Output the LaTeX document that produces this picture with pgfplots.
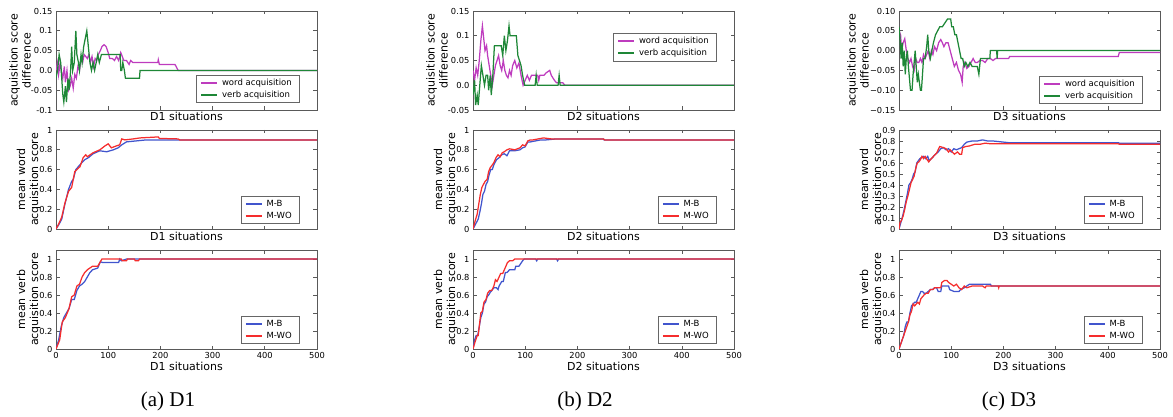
\documentclass[border=0pt]{standalone}
\usepackage{fontspec}
\setmainfont{DejaVu Sans}
\newfontfamily\capfont{Liberation Serif}
\usepackage{pgfplots}
\pgfplotsset{compat=1.18}

\definecolor{wordc}{RGB}{190,60,190}
\definecolor{verbc}{RGB}{30,135,55}
\definecolor{mbc}{RGB}{65,85,205}
\definecolor{mwoc}{RGB}{245,45,45}

\pgfplotsset{
  panel/.style={
    scale only axis, width=261pt, height=99pt,
    xmin=0, xmax=500, xtick={0,100,...,500},
    axis line style={black!65, line width=0.8pt},
    tick style={black!65, line width=0.6pt},
    major tick length=3.5pt, tick align=inside,
    /pgf/number format/assume math mode=true,
    tick label style={font=\fontsize{8.3}{9}\selectfont},
    label style={font=\fontsize{11}{13}\selectfont},
    ylabel style={align=center, at={(axis description cs:-0.105,0.5)}, anchor=center},
    xlabel style={at={(axis description cs:0.5,0)}, anchor=base, yshift=-11pt},
    legend style={font=\fontsize{8.5}{10}\selectfont, draw=black!60, line width=0.6pt,
      inner xsep=4pt, inner ysep=2pt, row sep=0pt, cells={anchor=west},
      nodes={inner xsep=4pt}},
    legend image code/.code={\draw[#1, line width=1.5pt] (0pt,0pt) -- (16pt,0pt);},
    every axis plot/.append style={line width=1.25pt, no markers},
  },
  toprow/.style={panel, xticklabels={},
    ylabel={acquisition score\\difference},
    ylabel style={at={(axis description cs:-0.138,0.5)}}},
  midrow/.style={panel, xticklabels={}, ylabel={mean word\\acquisition score}},
  botrow/.style={panel, ymin=0, ymax=1.1, ytick={0,0.2,0.4,0.6,0.8,1},
    yticklabels={0,0.2,0.4,0.6,0.8,1},
    ylabel={mean verb\\acquisition score}, xlabel style={yshift=-10pt},
    legend style={at={(0.935,0.05)}, anchor=south east}},
}

\begin{document}
\begin{tikzpicture}
\useasboundingbox (0,0) rectangle (1173pt,416pt);

% ---------------- D1 ----------------
\begin{axis}[toprow, at={(56pt,306pt)}, ymin=-0.1, ymax=0.15,
  ytick={-0.1,-0.05,0,0.05,0.1,0.15}, yticklabels={-0.1,-0.05,0.0,0.05,0.1,0.15},
  xlabel={D1 situations}, legend style={at={(0.935,0.07)}, anchor=south east}]
\addplot[wordc] coordinates {(0,0.0)(3,0.02)(5,-0.01)(8,0.02)(10,0.0)(13,-0.02)(16,0.01)(18,-0.03)(21,0.0)(24,-0.05)(27,-0.04)(30,-0.02)(33,-0.045)(36,-0.01)(39,-0.02)(42,0.01)(45,0.0)(48,0.03)(51,0.02)(54,0.04)(57,0.035)(60,0.03)(63,0.04)(66,0.02)(69,0.035)(72,0.01)(75,0.03)(78,0.025)(81,0.04)(85,0.05)(88,0.06)(92,0.065)(96,0.06)(100,0.045)(103,0.03)(108,0.03)(112,0.025)(116,0.035)(120,0.025)(124,0.045)(127,0.035)(130,0.025)(135,0.025)(140,0.015)(143,0.025)(147,0.02)(195,0.02)(196,0.027)(198,0.015)(228,0.015)(230,0.01)(234,0.0)(500,0.0)};
\addlegendentry{word acquisition}
\addplot[verbc] coordinates {(0,-0.02)(3,0.0)(6,0.04)(9,0.02)(11,-0.02)(13,-0.06)(15,-0.08)(18,-0.04)(20,-0.08)(23,-0.02)(25,-0.05)(28,0.0)(30,0.06)(32,0.0)(35,0.02)(38,0.1)(40,0.04)(43,0.02)(45,0.0)(48,0.04)(50,0.02)(53,0.06)(56,0.08)(59,0.1)(62,0.06)(65,0.02)(68,0.0)(71,0.02)(74,0.0)(77,0.02)(80,0.04)(83,0.02)(87,0.04)(123,0.04)(124,0.0)(126,0.0)(128,0.02)(131,0.0)(133,-0.02)(160,-0.02)(161,0.0)(500,0.0)};
\addlegendentry{verb acquisition}
\end{axis}

\begin{axis}[midrow, at={(56pt,187pt)}, ymin=0, ymax=1,
  ytick={0,0.2,0.4,0.6,0.8,1}, yticklabels={0,0.2,0.4,0.6,0.8,1},
  xlabel={D1 situations}, legend style={at={(0.935,0.05)}, anchor=south east}]
\addplot[mbc] coordinates {(0,0)(5,0.04)(11,0.1)(17,0.25)(24,0.4)(30,0.48)(33,0.5)(38,0.6)(46,0.65)(55,0.7)(62,0.72)(71,0.76)(84,0.79)(97,0.78)(110,0.8)(119,0.82)(126,0.85)(135,0.88)(154,0.89)(173,0.9)(500,0.9)};
\addlegendentry{M-B}
\addplot[mwoc] coordinates {(0,0)(5,0.05)(11,0.12)(17,0.26)(24,0.38)(30,0.42)(36,0.58)(46,0.63)(52,0.72)(57,0.75)(60,0.73)(71,0.77)(84,0.8)(94,0.84)(100,0.86)(106,0.82)(116,0.84)(122,0.85)(126,0.91)(132,0.9)(148,0.91)(161,0.92)(196,0.93)(198,0.915)(234,0.91)(237,0.9)(500,0.9)};
\addlegendentry{M-WO}
\end{axis}

\begin{axis}[botrow, at={(56pt,67pt)}, xlabel={D1 situations}]
\addplot[mbc] coordinates {(0,0)(5,0.1)(10,0.25)(15,0.35)(20,0.4)(25,0.45)(30,0.55)(35,0.55)(40,0.65)(45,0.7)(50,0.72)(55,0.75)(60,0.8)(65,0.85)(70,0.88)(80,0.9)(85,0.97)(90,0.96)(120,0.96)(122,1.0)(125,0.98)(135,1.0)(500,1.0)};
\addlegendentry{M-B}
\addplot[mwoc] coordinates {(0,0)(7,0.1)(12,0.3)(18,0.35)(25,0.45)(30,0.58)(35,0.6)(40,0.7)(45,0.72)(50,0.8)(55,0.85)(60,0.88)(70,0.92)(80,0.92)(88,1.0)(125,1.0)(127,0.98)(135,0.98)(137,1.0)(150,1.0)(152,0.98)(158,0.98)(160,1.0)(500,1.0)};
\addlegendentry{M-WO}
\end{axis}

% ---------------- D2 ----------------
\begin{axis}[toprow, at={(473pt,306pt)}, ymin=-0.05, ymax=0.15,
  ytick={-0.05,0,0.05,0.1,0.15}, yticklabels={-0.05,0.0,0.05,0.1,0.15},
  xlabel={D2 situations}, legend style={at={(0.935,0.78)}, anchor=north east}]
\addplot[wordc] coordinates {(0,0.03)(3,0.01)(6,0.035)(9,0.02)(12,0.05)(15,0.09)(18,0.12)(21,0.09)(23,0.07)(26,0.08)(28,0.06)(31,0.04)(34,0.02)(37,0.0)(40,0.02)(43,0.04)(46,0.05)(49,0.06)(52,0.04)(55,0.03)(58,0.05)(61,0.03)(64,0.02)(67,0.015)(70,0.03)(73,0.02)(76,0.04)(80,0.05)(84,0.035)(88,0.045)(92,0.02)(96,0.0)(100,0.01)(104,0.02)(108,0.01)(112,0.02)(124,0.02)(126,0.01)(128,0.02)(136,0.02)(140,0.025)(147,0.03)(150,0.02)(156,0.01)(160,0.005)(172,0.005)(176,0.0)(500,0)};
\addlegendentry{word acquisition}
\addplot[verbc] coordinates {(0,-0.02)(3,0.01)(5,-0.04)(8,-0.02)(10,-0.04)(13,0.0)(16,0.04)(19,0.02)(22,0.0)(25,0.02)(28,0.02)(30,-0.01)(33,0.02)(35,-0.02)(38,0.02)(41,0.08)(54,0.08)(57,0.06)(60,0.1)(63,0.07)(66,0.09)(69,0.12)(71,0.1)(83,0.1)(86,0.06)(92,0.04)(95,0.02)(99,0.0)(119,0.0)(121,0.02)(123,0.0)(163,0.0)(165,0.02)(167,0.0)(500,0)};
\addlegendentry{verb acquisition}
\end{axis}

\begin{axis}[midrow, at={(473pt,187pt)}, ymin=0, ymax=1,
  ytick={0,0.2,0.4,0.6,0.8,1}, yticklabels={0,0.2,0.4,0.6,0.8,1},
  xlabel={D2 situations}, legend style={at={(0.935,0.05)}, anchor=south east}]
\addplot[mbc] coordinates {(0,0)(5,0.05)(10,0.1)(13,0.17)(16,0.25)(19,0.35)(22,0.38)(25,0.45)(28,0.48)(31,0.55)(34,0.6)(37,0.6)(40,0.65)(45,0.7)(50,0.72)(55,0.75)(60,0.76)(65,0.74)(70,0.79)(80,0.79)(90,0.8)(95,0.82)(100,0.83)(105,0.88)(110,0.88)(120,0.89)(130,0.9)(140,0.9)(160,0.91)(250,0.91)(251,0.9)(500,0.9)};
\addlegendentry{M-B}
\addplot[mwoc] coordinates {(0,0)(4,0.08)(8,0.15)(11,0.25)(14,0.35)(17,0.42)(20,0.45)(23,0.48)(27,0.5)(30,0.58)(33,0.62)(36,0.64)(40,0.67)(44,0.72)(48,0.75)(52,0.73)(56,0.77)(60,0.78)(65,0.8)(70,0.81)(80,0.8)(90,0.82)(95,0.85)(100,0.84)(105,0.89)(110,0.9)(115,0.9)(125,0.91)(135,0.92)(150,0.91)(250,0.91)(252,0.9)(500,0.9)};
\addlegendentry{M-WO}
\end{axis}

\begin{axis}[botrow, at={(473pt,67pt)}, xlabel={D2 situations}]
\addplot[mbc] coordinates {(0,0)(3,0.1)(6,0.15)(9,0.15)(12,0.25)(15,0.35)(18,0.4)(21,0.5)(24,0.52)(27,0.58)(30,0.6)(33,0.63)(36,0.65)(40,0.68)(45,0.68)(48,0.66)(50,0.7)(55,0.75)(58,0.75)(62,0.85)(65,0.85)(70,0.88)(80,0.88)(82,0.92)(88,0.92)(95,0.98)(98,1.0)(120,1.0)(122,0.98)(124,1.0)(160,1.0)(162,0.98)(164,1.0)(500,1.0)};
\addlegendentry{M-B}
\addplot[mwoc] coordinates {(0,0)(4,0.08)(8,0.15)(10,0.15)(13,0.3)(15,0.4)(18,0.42)(21,0.52)(25,0.55)(28,0.62)(32,0.65)(36,0.65)(40,0.7)(43,0.77)(46,0.75)(50,0.8)(53,0.84)(57,0.84)(60,0.88)(63,0.92)(66,0.96)(70,0.98)(76,0.98)(80,1.0)(500,1.0)};
\addlegendentry{M-WO}
\end{axis}

% ---------------- D3 ----------------
\begin{axis}[toprow, at={(899pt,306pt)}, ymin=-0.15, ymax=0.1,
  ytick={-0.15,-0.1,-0.05,0,0.05,0.1}, yticklabels={−0.15,−0.10,−0.05,0.00,0.05,0.10},
  ylabel style={at={(axis description cs:-0.157,0.5)}},
  xlabel={D3 situations}, legend style={at={(0.935,0.06)}, anchor=south east}]
\addplot[wordc] coordinates {(0,0.05)(3,0.04)(5,0.0)(8,0.02)(11,0.03)(14,0.0)(17,-0.02)(20,-0.03)(23,-0.02)(26,-0.04)(29,-0.05)(32,-0.02)(35,-0.03)(38,-0.03)(41,-0.02)(44,-0.03)(47,-0.01)(50,-0.02)(53,-0.01)(56,0.0)(59,-0.02)(62,0.0)(65,-0.01)(68,0.01)(72,0.0)(76,0.02)(80,0.028)(83,0.02)(86,0.01)(90,0.02)(94,0.02)(98,0.0)(102,-0.02)(106,-0.04)(110,-0.03)(114,-0.05)(118,-0.06)(121,-0.08)(123,-0.04)(126,-0.03)(130,-0.045)(134,-0.04)(138,-0.03)(142,-0.02)(146,-0.03)(150,-0.03)(155,-0.025)(160,-0.025)(165,-0.03)(170,-0.02)(175,-0.02)(180,-0.025)(185,-0.02)(210,-0.02)(212,-0.015)(420,-0.015)(422,-0.005)(500,-0.005)};
\addlegendentry{word acquisition}
\addplot[verbc] coordinates {(0,0.06)(2,0.03)(4,-0.02)(6,0.02)(8,-0.04)(10,0.0)(12,-0.06)(14,-0.02)(16,0.0)(18,-0.04)(20,-0.07)(22,-0.1)(25,-0.1)(27,-0.06)(29,-0.03)(31,0.0)(33,-0.04)(35,-0.08)(37,-0.06)(39,-0.08)(41,-0.1)(43,-0.1)(45,-0.06)(47,-0.02)(50,-0.02)(53,0.01)(55,0.04)(57,0.0)(60,-0.02)(63,0.0)(66,0.02)(70,0.04)(74,0.05)(78,0.06)(83,0.06)(88,0.07)(93,0.08)(99,0.08)(101,0.06)(104,0.06)(107,0.04)(110,0.04)(113,0.02)(116,0.0)(119,-0.02)(122,-0.02)(125,-0.04)(128,-0.03)(132,-0.04)(136,-0.03)(140,-0.04)(150,-0.04)(153,-0.06)(156,-0.02)(174,-0.02)(175,0.0)(187,0.0)(188,-0.02)(189,0.0)(500,0.0)};
\addlegendentry{verb acquisition}
\end{axis}

\begin{axis}[midrow, at={(899pt,187pt)}, ymin=0, ymax=0.9,
  ytick={0,0.1,0.2,0.3,0.4,0.5,0.6,0.7,0.8,0.9},
  yticklabels={0,0.1,0.2,0.3,0.4,0.5,0.6,0.7,0.8,0.9},
  xlabel={D3 situations}, legend style={at={(0.935,0.05)}, anchor=south east}]
\addplot[mbc] coordinates {(0,0)(3,0.05)(6,0.1)(10,0.18)(13,0.25)(16,0.32)(19,0.4)(22,0.42)(25,0.45)(28,0.5)(31,0.52)(34,0.6)(37,0.62)(40,0.64)(43,0.65)(47,0.66)(51,0.64)(55,0.66)(58,0.62)(62,0.64)(66,0.66)(70,0.68)(75,0.7)(80,0.73)(85,0.74)(90,0.72)(95,0.73)(100,0.7)(105,0.73)(110,0.72)(115,0.73)(120,0.74)(125,0.77)(130,0.79)(140,0.8)(150,0.8)(160,0.81)(170,0.8)(180,0.8)(200,0.79)(210,0.785)(420,0.785)(422,0.78)(500,0.78)};
\addlegendentry{M-B}
\addplot[mwoc] coordinates {(0,0)(2,0.06)(5,0.08)(8,0.12)(11,0.18)(14,0.25)(17,0.3)(20,0.36)(23,0.42)(26,0.45)(29,0.48)(32,0.55)(35,0.6)(38,0.61)(41,0.63)(44,0.66)(47,0.64)(50,0.66)(54,0.63)(57,0.61)(60,0.63)(64,0.65)(68,0.67)(72,0.69)(75,0.72)(78,0.75)(85,0.74)(90,0.73)(95,0.7)(98,0.72)(102,0.7)(106,0.68)(112,0.7)(116,0.68)(120,0.68)(122,0.74)(128,0.75)(135,0.755)(145,0.77)(155,0.77)(165,0.78)(175,0.775)(420,0.775)(422,0.77)(500,0.77)};
\addlegendentry{M-WO}
\end{axis}

\begin{axis}[botrow, at={(899pt,67pt)}, xlabel={D3 situations}]
\addplot[mbc] coordinates {(0,0)(3,0.05)(6,0.1)(9,0.15)(12,0.25)(15,0.3)(18,0.3)(21,0.4)(24,0.48)(27,0.5)(30,0.52)(33,0.52)(36,0.56)(39,0.6)(42,0.64)(45,0.64)(48,0.62)(52,0.62)(56,0.64)(60,0.66)(64,0.66)(68,0.68)(72,0.68)(75,0.64)(80,0.64)(82,0.7)(95,0.7)(97,0.66)(105,0.64)(115,0.64)(118,0.66)(125,0.68)(130,0.7)(135,0.72)(175,0.72)(177,0.7)(500,0.7)};
\addlegendentry{M-B}
\addplot[mwoc] coordinates {(0,0)(3,0.05)(6,0.1)(9,0.15)(12,0.2)(15,0.25)(18,0.3)(21,0.38)(24,0.42)(27,0.5)(30,0.48)(33,0.5)(36,0.52)(39,0.5)(42,0.56)(45,0.58)(48,0.6)(52,0.62)(56,0.62)(60,0.66)(65,0.66)(68,0.68)(80,0.68)(82,0.74)(87,0.76)(92,0.76)(95,0.74)(100,0.72)(105,0.7)(110,0.72)(115,0.68)(120,0.66)(125,0.7)(130,0.68)(140,0.7)(160,0.7)(165,0.68)(167,0.7)(190,0.7)(191,0.68)(192,0.7)(500,0.7)};
\addlegendentry{M-WO}
\end{axis}

% captions
\node[anchor=base, font=\capfont\fontsize{21}{24}\selectfont] at (168pt,10pt) {(a) D1};
\node[anchor=base, font=\capfont\fontsize{21}{24}\selectfont] at (585pt,10pt) {(b) D2};
\node[anchor=base, font=\capfont\fontsize{21}{24}\selectfont] at (1009pt,10pt) {(c) D3};
\end{tikzpicture}
\end{document}
